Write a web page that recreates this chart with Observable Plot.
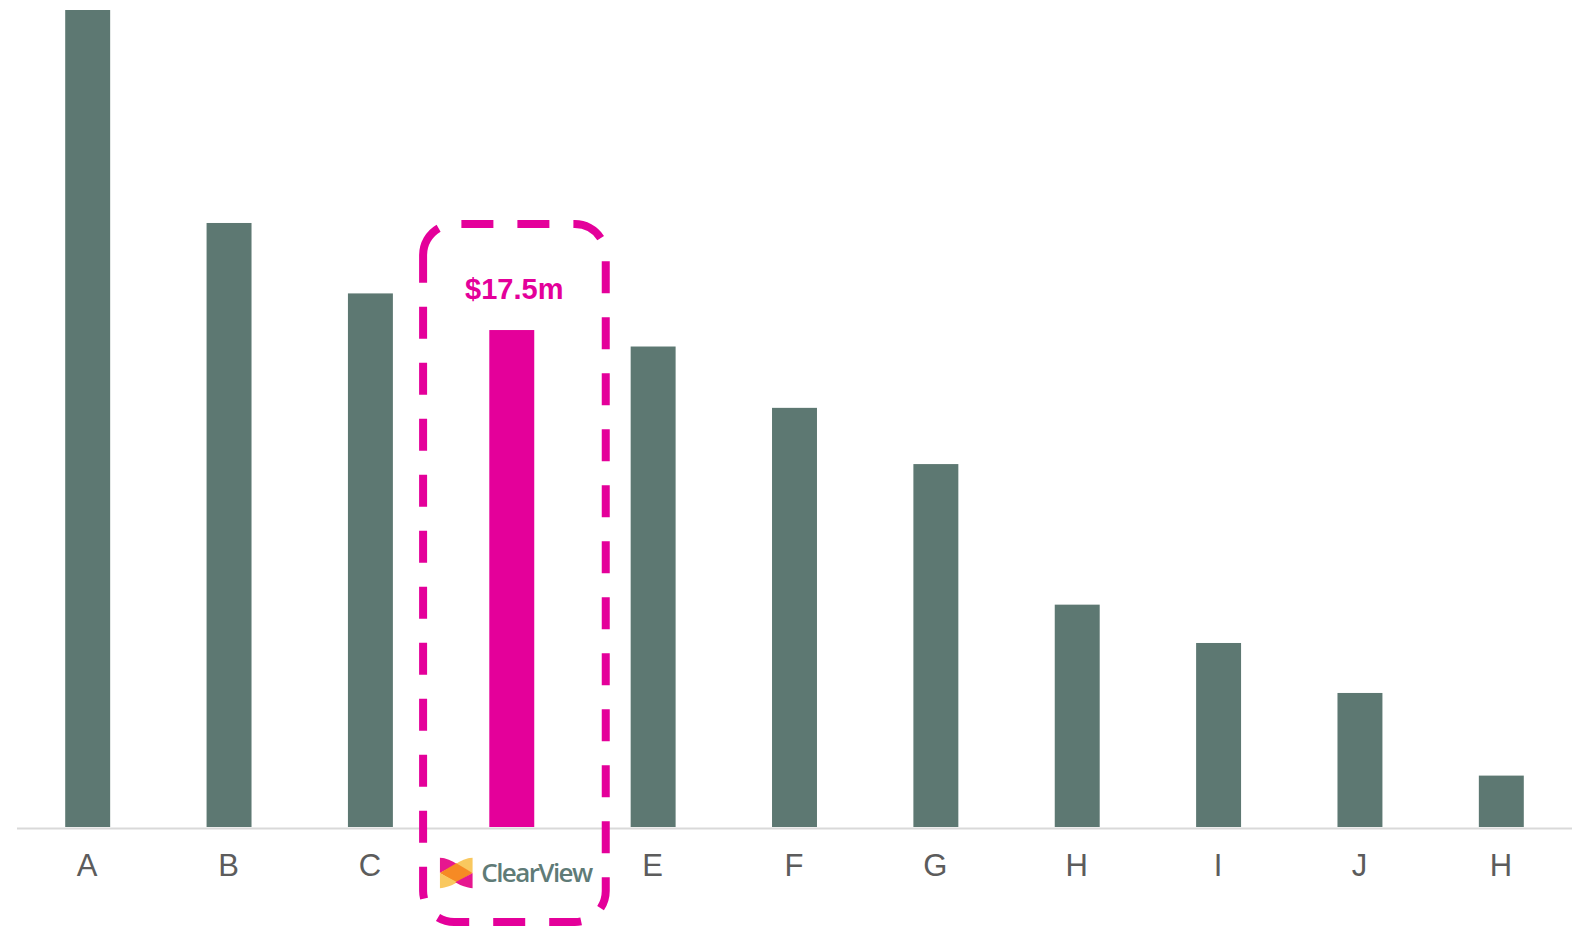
<!DOCTYPE html>
<html><head><meta charset="utf-8">
<script src="https://cdn.jsdelivr.net/npm/d3@7"></script>
<script src="https://cdn.jsdelivr.net/npm/@observablehq/plot@0.6"></script>
<style>
html,body{margin:0;padding:0;background:#fff}
.logo-word text{letter-spacing:-1.6px}
</style></head><body><div id="chart"></div>
<script>
const labels = ["A","B","C","","E","F","G","H","I","J","H"];
const values = [28.77,21.27,18.79,17.5,16.92,14.76,12.78,7.83,6.48,4.72,1.81];
const highlightIndex = 3;
const frameTop = 21.23, frameBottom = -3.345;

const GREY="#5d7872", PINK="#e4009a";
const rows = values.map((v,i)=>({i,v}));
const logoSvg = `<svg xmlns="http://www.w3.org/2000/svg" viewBox="0 0 98 92">
<path d="M0 0 Q28 3 52 20 L0 46Z" fill="#e6178f"/>
<path d="M98 0 Q70 3 46 20 L98 46Z" fill="#f9c85f"/>
<path d="M0 46 L49 17 L98 46 L49 75Z" fill="#f68a24"/>
<path d="M0 46 L52 74 Q28 89 0 92Z" fill="#f9c85f"/>
<path d="M98 46 L46 74 Q70 89 98 92Z" fill="#e6178f"/>
</svg>`;
const logoSrc = "data:image/svg+xml;charset=utf-8,"+encodeURIComponent(logoSvg);
// The frame's dash pattern restarts at the top of its left edge, so the dash there is longer.
const frameDash = [0,7.3,...d3.range(29).flatMap(()=>[32,24]),60,100].join(" ");

const plot = Plot.plot({
  width:1575,height:930,marginLeft:17,marginRight:3,marginTop:10,marginBottom:103,
  style:{fontFamily:"'Liberation Sans',Arial,sans-serif",background:"#fff"},
  x:{type:"band",domain:d3.range(labels.length),round:false,paddingInner:0.682,paddingOuter:0.341,align:0.5,label:null},
  y:{domain:[0,values[0]],label:null},
  marks:[
    Plot.barY(rows,{x:"i",y:"v",fill:d=>d.i===highlightIndex?PINK:GREY}),
    Plot.ruleY([0],{stroke:"#d9d9d9",strokeWidth:2,dy:1}),
    Plot.axisX({tickSize:0,tickPadding:26,fontSize:31,dx:-1,tickFormat:i=>labels[i],color:"#5c5c5c",fill:"#5c5c5c",label:null}),
    Plot.axisY({ticks:[],label:null,tickSize:0}),
    Plot.barY([highlightIndex],{x:d=>d,y1:()=>frameBottom,y2:()=>frameTop,fill:"none",stroke:PINK,strokeWidth:8,
      strokeDasharray:frameDash,rx:31,ry:31,insetLeft:-66.2,insetRight:-71.5}),
    Plot.text(["$17.5m"],{x:()=>highlightIndex,y:()=>18.92,text:d=>d,fill:PINK,fontSize:29,fontWeight:"bold",dx:2}),
    Plot.image([highlightIndex],{x:d=>d,y:()=>-1.6,width:33,height:31,src:()=>logoSrc,dx:-56,preserveAspectRatio:"none"}),
    Plot.text(["ClearView"],{x:()=>highlightIndex,y:()=>-1.62,text:d=>d,fill:"#5f7b77",fontSize:26,fontWeight:600,fontFamily:"'Open Sans',sans-serif",className:"logo-word",textAnchor:"start",dx:-31})
  ]
});
document.getElementById("chart").append(plot);
</script></body></html>
